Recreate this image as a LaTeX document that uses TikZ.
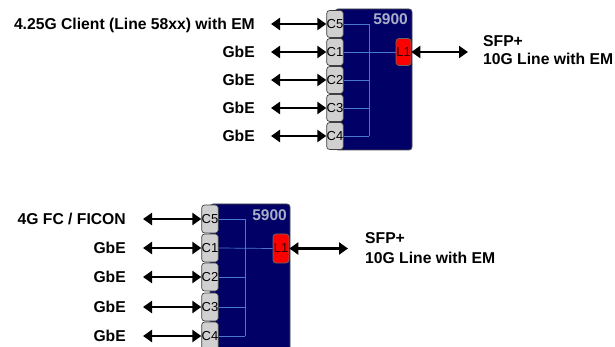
\documentclass[tikz,border=0pt]{standalone}
\usepackage{fontspec}
\setmainfont{Liberation Sans}
\usetikzlibrary{arrows.meta}
\definecolor{navy}{HTML}{000066}
\definecolor{portgray}{HTML}{D0D0D0}
\definecolor{linkblue}{HTML}{4A78D0}
\definecolor{titlegray}{HTML}{A8AEC8}
\definecolor{lred}{HTML}{FF0000}
\begin{document}
\begin{tikzpicture}[x=1pt,y=-1pt,
  chassis/.style={draw=black!70,fill=navy,line width=0.8pt,rounded corners=3pt},
  port/.style={draw=black!75,fill=portgray,line width=0.7pt,rounded corners=3pt,minimum width=16pt,minimum height=27pt,inner sep=0pt,font=\fontsize{13}{14}\selectfont},
  lport/.style={draw=black!60,fill=lred,line width=0.7pt,rounded corners=3pt,minimum width=15pt,minimum height=27pt,inner sep=0pt,text=black!80!red,font=\fontsize{13}{14}\selectfont},
  link/.style={draw=linkblue,line width=0.7pt},
  biarrow/.style={line width=2.6pt,{Triangle[length=9pt,width=12pt]}-{Triangle[length=9pt,width=12pt]}},
  lab/.style={font=\fontsize{15.7}{18}\selectfont\bfseries,inner sep=0pt},
  ttl/.style={font=\fontsize{15.5}{16}\selectfont\bfseries,text=titlegray,inner sep=0pt}]
\useasboundingbox (0,0) rectangle (615,347);
\clip (0,0) rectangle (615,347);
% ---------- top block ----------
\path[chassis] (335,9) rectangle (412,150);
\node[ttl,anchor=base east] (t5900) at (408,25) {5900};
\foreach \n/\y in {C5/24,C1/52,C2/80,C3/108,C4/136}{
  \node[port] (t\n) at (335,\y) {\n};
}
\node[lport] (tL1) at (403.5,52) {L1};
\coordinate (tbus) at (369,24);
\coordinate (tbusb) at (369,136);
\draw[link] (tbus) -- (tbusb);
\foreach \n in {C5,C2,C3,C4}{
  \draw[link] (t\n.east) -- (t\n.east -| tbus);
}
\draw[link] (tC1.east) -- (tL1.west);
% left labels and arrows
\foreach \n/\y/\t in {C5/24/{4.25G Client (Line 58xx) with EM},C1/52/GbE,C2/80/GbE,C3/108/GbE,C4/136/GbE}{
  \node[lab,anchor=base east] (tl\n) at (255,\y+5.4) {\t};
  \coordinate (ta\n) at (271,\y);
  \draw[biarrow] (ta\n) -- (t\n.west);
}
\coordinate (tre) at (468,52);
\draw[biarrow] (tL1.east) -- (tre);
\node[lab,anchor=base west] (tsfp) at (483,46.7) {SFP+};
\node[lab,anchor=base west] (tten) at (483,65) {10G Line with EM};
% ---------- bottom block ----------
\path[chassis] (210,204) rectangle (290,360);
\node[ttl,anchor=base east] (b5900) at (287,221) {5900};
\foreach \n/\y in {C5/219,C1/248,C2/277,C3/307,C4/336}{
  \node[port,minimum height=28pt] (b\n) at (210,\y) {\n};
}
\node[lport,minimum width=16pt,minimum height=29pt] (bL1) at (281,248.5) {L1};
\coordinate (bbus) at (245,219);
\coordinate (bbusb) at (245,336);
\draw[link] (bbus) -- (bbusb);
\foreach \n in {C5,C2,C3,C4}{
  \draw[link] (b\n.east) -- (b\n.east -| bbus);
}
\draw[link] (bC1.east) -- (bL1.west);
\foreach \n/\y/\t in {C5/219/{4G FC / FICON},C1/248/GbE,C2/277/GbE,C3/307/GbE,C4/336/GbE}{
  \node[lab,anchor=base east] (bl\n) at (126,\y+5.6) {\t};
  \coordinate (ba\n) at (143,\y);
  \draw[biarrow] (ba\n) -- (b\n.west);
}
\coordinate (bre) at (348,248.5);
\draw[biarrow] (bL1.east) -- (bre);
\node[lab,anchor=base west] (bsfp) at (365,243.3) {SFP+};
\node[lab,anchor=base west] (bten) at (365,263.3) {10G Line with EM};
\end{tikzpicture}
\end{document}
